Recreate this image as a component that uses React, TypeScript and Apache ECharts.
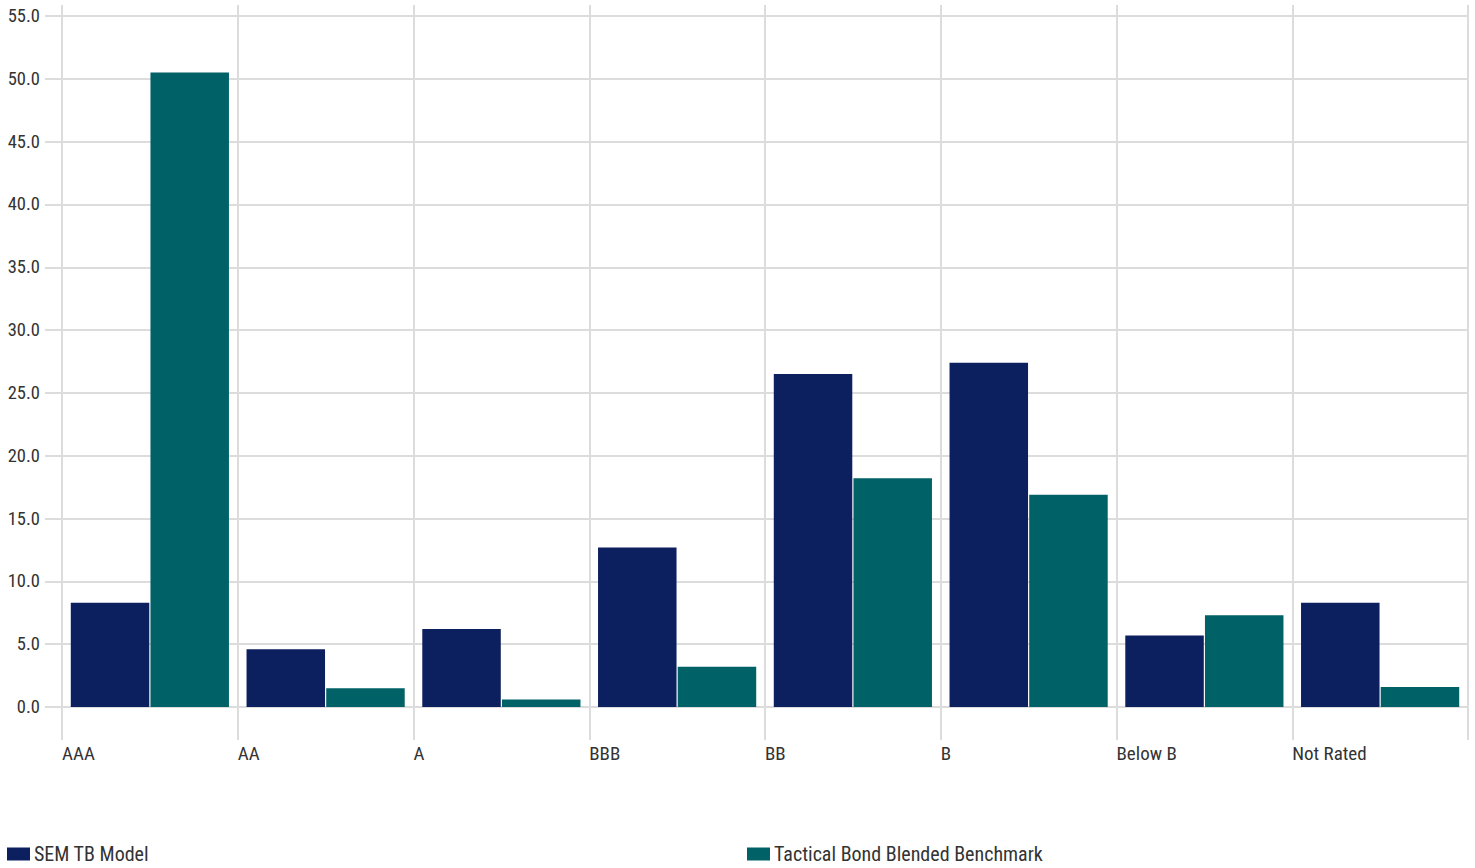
import React, { useEffect, useRef } from "react";
import * as echarts from "echarts";

const categories = ["AAA", "AA", "A", "BBB", "BB", "B", "Below B", "Not Rated"];
const semTBModel = [8.3, 4.6, 6.2, 12.7, 26.5, 27.4, 5.7, 8.3];
const benchmark = [50.5, 1.5, 0.6, 3.2, 18.2, 16.9, 7.3, 1.6];
const seriesNames = ["SEM TB Model", "Tactical Bond Blended Benchmark"];
const yTicks = { min: 0, max: 55, interval: 5 };

const FONT = "'Liberation Sans Narrow', 'Roboto Condensed', Roboto, sans-serif";
const GRID = "#dcdcdc";
const TEXT = "#333333";
const NAVY = "#0c1f5e";
const TEAL = "#006166";

export default function App() {
  const ref = useRef<HTMLDivElement>(null);
  useEffect(() => {
    if (!ref.current) return;
    const chart = echarts.init(ref.current, null, { renderer: "svg" });
    const boundaryData = [...categories, ""];
    const legendBase = {
      top: 839,
      icon: "rect",
      itemWidth: 23,
      itemHeight: 13,
      textStyle: { fontFamily: FONT, fontSize: 20, color: TEXT, padding: [0, 0, 0, -1] },
    };
    chart.setOption({
      animation: false,
      textStyle: { fontFamily: FONT },
      grid: { left: 62, right: 7, top: 16, bottom: 161, containLabel: false },
      legend: [
        { ...legendBase, data: [seriesNames[0]], left: 2 },
        { ...legendBase, data: [seriesNames[1]], left: 742 },
      ],
      xAxis: [
        {
          type: "category",
          data: categories,
          boundaryGap: true,
          axisLine: { show: false },
          axisTick: { show: false },
          axisLabel: { show: false },
          splitLine: { show: false },
        },
        {
          type: "category",
          data: boundaryData,
          position: "bottom",
          boundaryGap: false,
          axisLine: { show: false },
          axisTick: { show: true, length: 33, interval: 0, lineStyle: { color: GRID, width: 2 } },
          axisLabel: {
            show: true,
            interval: 0,
            align: "left",
            margin: 37,
            fontFamily: FONT,
            fontSize: 19,
            color: TEXT,
          },
          splitLine: { show: true, interval: 0, lineStyle: { color: GRID, width: 2 } },
        },
        {
          type: "category",
          data: boundaryData,
          position: "top",
          boundaryGap: false,
          axisLine: { show: false },
          axisTick: { show: true, length: 11, interval: 0, lineStyle: { color: GRID, width: 2 } },
          axisLabel: { show: false },
          splitLine: { show: false },
        },
      ],
      yAxis: {
        type: "value",
        min: yTicks.min,
        max: yTicks.max,
        interval: yTicks.interval,
        axisLine: { show: false },
        axisTick: { show: true, length: 17, lineStyle: { color: GRID, width: 2 } },
        axisLabel: {
          margin: 22,
          fontFamily: FONT,
          fontSize: 18.5,
          color: TEXT,
          formatter: (v: number) => v.toFixed(1),
        },
        splitLine: { show: true, lineStyle: { color: GRID, width: 2 } },
      },
      series: [
        {
          name: seriesNames[0],
          type: "bar",
          xAxisIndex: 0,
          data: semTBModel,
          itemStyle: { color: NAVY },
          barGap: "1.5%",
          barCategoryGap: "10%",
        },
        {
          name: seriesNames[1],
          type: "bar",
          xAxisIndex: 0,
          data: benchmark,
          itemStyle: { color: TEAL },
          barGap: "1.5%",
          barCategoryGap: "10%",
        },
      ],
    });
    return () => chart.dispose();
  }, []);
  return (
    <div
      ref={ref}
      style={{ position: "absolute", left: 0, top: 0, width: 1475, height: 868 }}
    />
  );
}
